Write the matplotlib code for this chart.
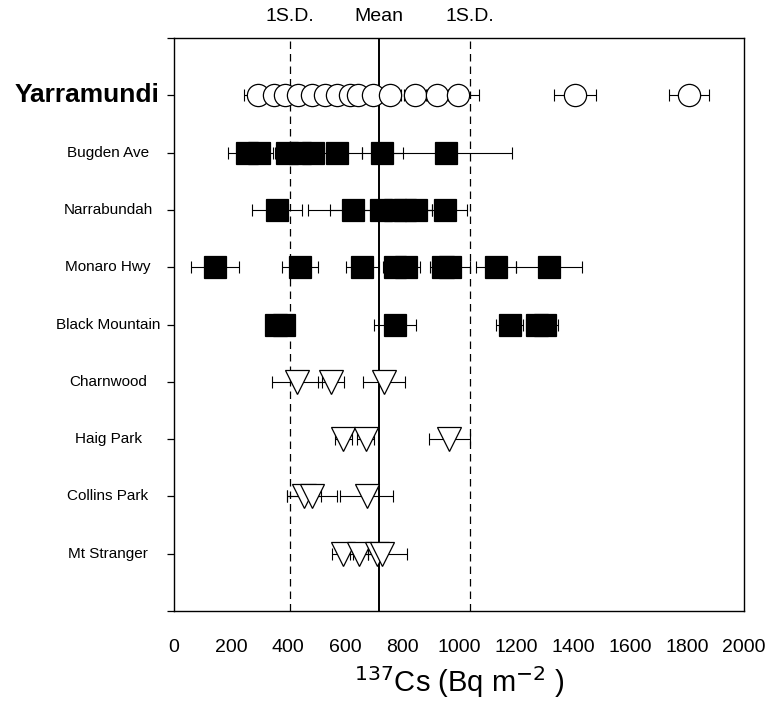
import matplotlib
matplotlib.use("Agg")
import matplotlib.pyplot as plt
from matplotlib.transforms import blended_transform_factory

plt.rcParams['font.family'] = ['Liberation Sans', 'DejaVu Sans']

sites = ["Yarramundi", "Bugden Ave", "Narrabundah", "Monaro Hwy", "Black Mountain",
         "Charnwood", "Haig Park", "Collins Park", "Mt Stranger"]

yarramundi_vals = [295, 351, 389, 435, 484, 530, 572, 618, 646, 698, 758, 846, 923, 996, 1407, 1807]
yarramundi_errs = [50, 40, 40, 45, 40, 40, 40, 40, 40, 40, 40, 40, 40, 75, 75, 70]
bugden_vals = [256, 298, 396, 442, 488, 573, 731, 955]
bugden_errs = [66, 50, 40, 40, 40, 85, 72, 230]
narrabundah_vals = [361, 628, 726, 775, 811, 849, 951]
narrabundah_errs = [87, 158, 179, 40, 40, 56, 77]
monaro_vals = [144, 442, 661, 775, 814, 944, 968, 1130, 1316]
monaro_errs = [83, 63, 58, 40, 49, 40, 71, 70, 116]
blackmtn_vals = [358, 385, 775, 1178, 1274, 1302]
blackmtn_errs = [30, 30, 73, 47, 40, 45]
charnwood_vals = [431, 551, 737]
charnwood_errs = [87, 45, 75]
haig_vals = [594, 673, 965]
haig_errs = [30, 30, 72]
collins_vals = [456, 485, 677]
collins_errs = [59, 87, 93]
stranger_vals = [592, 649, 711, 730]
stranger_errs = [37, 30, 30, 87]

mean_val = 720
sd_low = 407
sd_high = 1039

x_ticks = list(range(0, 2001, 200))

series = [
    (yarramundi_vals, yarramundi_errs, 'o', 'white', 16),
    (bugden_vals, bugden_errs, 's', 'black', 16),
    (narrabundah_vals, narrabundah_errs, 's', 'black', 16),
    (monaro_vals, monaro_errs, 's', 'black', 16),
    (blackmtn_vals, blackmtn_errs, 's', 'black', 16),
    (charnwood_vals, charnwood_errs, 'v', 'white', 17),
    (haig_vals, haig_errs, 'v', 'white', 17),
    (collins_vals, collins_errs, 'v', 'white', 17),
    (stranger_vals, stranger_errs, 'v', 'white', 17),
]

fig = plt.figure(figsize=(7.71, 7.11), dpi=100)
ax = fig.add_axes([0.2257, 0.1406, 0.7393, 0.806])

ax.axvline(mean_val, color='black', lw=1.4, zorder=1)
ax.axvline(sd_low, color='black', lw=0.9, ls=(0, (6, 4)), zorder=1)
ax.axvline(sd_high, color='black', lw=0.9, ls=(0, (6, 4)), zorder=1)

n = len(sites)
for i, (vals, errs, mk, fc, ms) in enumerate(series):
    y = n - i
    ax.errorbar(vals, [y] * len(vals), xerr=errs, fmt='none', ecolor='black',
                elinewidth=0.8, capsize=4, capthick=0.8, zorder=2)
    ax.plot(vals, [y] * len(vals), ls='none', marker=mk, ms=ms, mfc=fc,
            mec='black', mew=0.9, zorder=3)

ax.set_xlim(0, 2000)
ax.set_ylim(0, 10)
ax.set_xticks(x_ticks)
ax.set_xticklabels([str(t) for t in x_ticks], fontsize=14)
ax.tick_params(axis='x', length=0, pad=20)
ax.set_yticks(range(0, 11))
ax.set_yticklabels([])
ax.tick_params(axis='y', direction='out', length=5, width=0.9)
for s in ax.spines.values():
    s.set_linewidth(1.0)

trans = blended_transform_factory(ax.transAxes, ax.transData)
for i, name in enumerate(sites):
    y = n - i
    if i == 0:
        ax.text(-0.1526, y, name, transform=trans, ha='center', va='center',
                fontsize=19, fontweight='bold')
    else:
        ax.text(-0.1158, y, name, transform=trans, ha='center', va='center',
                fontsize=11)

ax.text(sd_low, 10.37, "1S.D.", ha='center', va='center', fontsize=14)
ax.text(mean_val, 10.37, "Mean", ha='center', va='center', fontsize=14)
ax.text(sd_high, 10.37, "1S.D.", ha='center', va='center', fontsize=14)

ax.set_xlabel(r"$^{137}$Cs (Bq m$^{-2}$ )", fontsize=21, labelpad=6)

fig.savefig("out.png", dpi=100)
